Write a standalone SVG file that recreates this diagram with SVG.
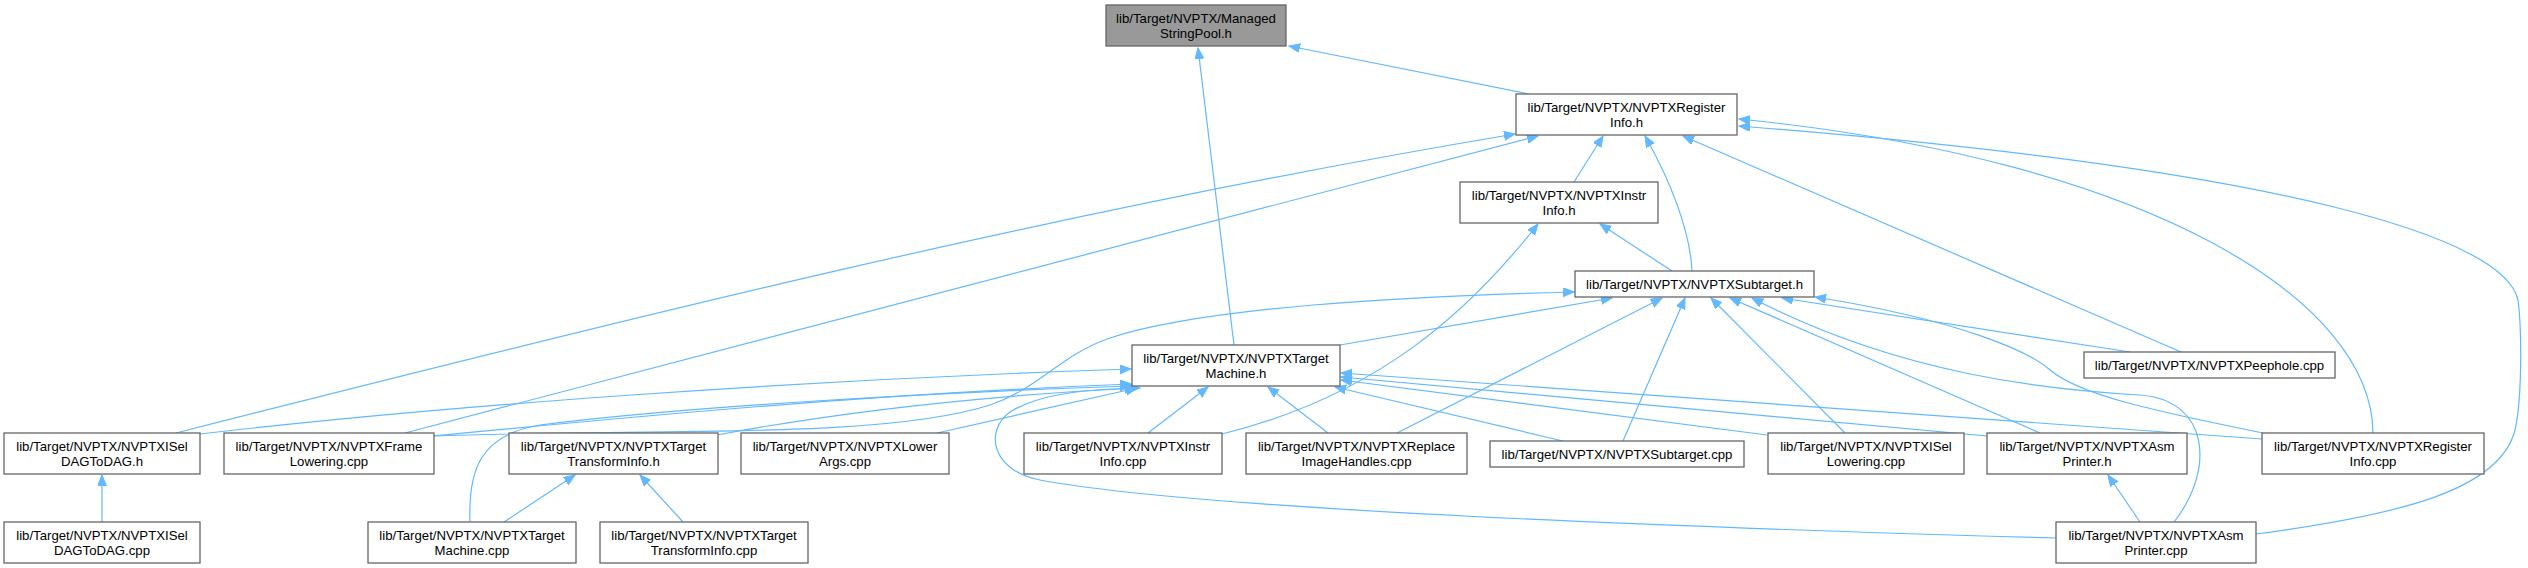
<svg xmlns="http://www.w3.org/2000/svg" width="2528" height="568" viewBox="0 0 2528 568">
<style>
.n rect{fill:#ffffff;stroke:#666666;stroke-width:1.3}
.n.g rect{fill:#999999}
.n text{font-family:"Liberation Sans",Arial,sans-serif;font-size:13.2px;fill:#000000;text-anchor:middle}
.e path{fill:none;stroke:#63b8ff;stroke-width:1.2;marker-end:url(#a)}
</style>
<defs>
<marker id="a" markerWidth="12" markerHeight="10" refX="11" refY="4.5" orient="auto" markerUnits="userSpaceOnUse" viewBox="0 0 12 10">
<path d="M0,0 L11,4.5 L0,9 z" fill="#63b8ff" stroke="#63b8ff" stroke-width="1"/>
</marker>
</defs>
<rect x="0" y="0" width="2528" height="568" fill="#ffffff"/>
<g id="edges" class="e">
<path d="M1529,94 L1289,46"/>
<path d="M1234,345 L1198,48"/>
<path d="M176,433 C620,320 1060,210 1515,134"/>
<path d="M405,433 L1538,136"/>
<path d="M1574,182 L1603,136"/>
<path d="M1692,271 C1690,230 1670,180 1645,136"/>
<path d="M2181,352 L1683,136"/>
<path d="M2373,433 C2372,300 2150,160 1739,119"/>
<path d="M2256,534 C2400,515 2500,490 2515,430 C2522,400 2522,330 2518,300 C2505,240 2300,170 1739,126"/>
<path d="M1672,271 L1600,224"/>
<path d="M1222,434 C1380,395 1470,310 1538,224"/>
<path d="M1340,345 L1612,298"/>
<path d="M433,436 C650,428 880,440 990,405 C1040,388 1060,355 1110,338 C1200,308 1400,296 1574,292"/>
<path d="M1397,433 L1662,298"/>
<path d="M1623,441 L1685,298"/>
<path d="M1845,433 L1711,298"/>
<path d="M2040,433 L1730,298"/>
<path d="M2174,522 C2215,470 2210,400 2140,395 C2050,390 1900,375 1752,298"/>
<path d="M2130,352 L1782,298"/>
<path d="M2263,433 C2150,410 2080,395 2050,370 C2030,352 1960,320 1815,297"/>
<path d="M200,434 C450,405 800,380 1131,369"/>
<path d="M433,436 C600,420 850,395 1131,384"/>
<path d="M717,435 C850,410 1000,395 1136,388"/>
<path d="M937,433 L1137,388"/>
<path d="M470,522 C468,470 480,435 540,425 C700,405 950,392 1131,386"/>
<path d="M1148,433 L1208,387"/>
<path d="M1328,433 L1268,387"/>
<path d="M1563,441 L1335,387"/>
<path d="M1767,435 L1341,380"/>
<path d="M1987,436 L1341,377"/>
<path d="M2262,439 L1341,373"/>
<path d="M2056,538 C1700,528 1200,510 1040,480 C990,470 985,430 1010,412 C1040,393 1090,389 1140,388"/>
<path d="M102,522 L102,475"/>
<path d="M504,522 L575,475"/>
<path d="M683,522 L640,475"/>
<path d="M2140,522 L2108,475"/>
</g>
<g id="n_msp" class="n g"><rect x="1106" y="5" width="180" height="41"/><text x="1196" y="22.5">lib/Target/NVPTX/Managed</text><text x="1196" y="37.5">StringPool.h</text></g>
<g id="n_reginfo_h" class="n"><rect x="1516" y="94" width="221" height="41"/><text x="1626.5" y="111.5">lib/Target/NVPTX/NVPTXRegister</text><text x="1626.5" y="126.5">Info.h</text></g>
<g id="n_instrinfo_h" class="n"><rect x="1460" y="182" width="198" height="41"/><text x="1559" y="199.5">lib/Target/NVPTX/NVPTXInstr</text><text x="1559" y="214.5">Info.h</text></g>
<g id="n_subtarget_h" class="n"><rect x="1575" y="271" width="239" height="26"/><text x="1694.5" y="289">lib/Target/NVPTX/NVPTXSubtarget.h</text></g>
<g id="n_tm_h" class="n"><rect x="1132" y="345" width="208" height="41"/><text x="1236" y="362.5">lib/Target/NVPTX/NVPTXTarget</text><text x="1236" y="377.5">Machine.h</text></g>
<g id="n_dag_h" class="n"><rect x="4" y="433" width="196" height="41"/><text x="102" y="450.5">lib/Target/NVPTX/NVPTXISel</text><text x="102" y="465.5">DAGToDAG.h</text></g>
<g id="n_frame_cpp" class="n"><rect x="224" y="433" width="210" height="41"/><text x="329" y="450.5">lib/Target/NVPTX/NVPTXFrame</text><text x="329" y="465.5">Lowering.cpp</text></g>
<g id="n_tti_h" class="n"><rect x="509" y="433" width="209" height="41"/><text x="613.5" y="450.5">lib/Target/NVPTX/NVPTXTarget</text><text x="613.5" y="465.5">TransformInfo.h</text></g>
<g id="n_lowerargs_cpp" class="n"><rect x="741" y="433" width="208" height="41"/><text x="845" y="450.5">lib/Target/NVPTX/NVPTXLower</text><text x="845" y="465.5">Args.cpp</text></g>
<g id="n_instrinfo_cpp" class="n"><rect x="1024" y="433" width="198" height="41"/><text x="1123" y="450.5">lib/Target/NVPTX/NVPTXInstr</text><text x="1123" y="465.5">Info.cpp</text></g>
<g id="n_replace_cpp" class="n"><rect x="1246" y="433" width="221" height="41"/><text x="1356.5" y="450.5">lib/Target/NVPTX/NVPTXReplace</text><text x="1356.5" y="465.5">ImageHandles.cpp</text></g>
<g id="n_subtarget_cpp" class="n"><rect x="1490" y="441" width="254" height="26"/><text x="1617" y="459">lib/Target/NVPTX/NVPTXSubtarget.cpp</text></g>
<g id="n_isellower_cpp" class="n"><rect x="1768" y="433" width="196" height="41"/><text x="1866" y="450.5">lib/Target/NVPTX/NVPTXISel</text><text x="1866" y="465.5">Lowering.cpp</text></g>
<g id="n_asm_h" class="n"><rect x="1987" y="433" width="200" height="41"/><text x="2087" y="450.5">lib/Target/NVPTX/NVPTXAsm</text><text x="2087" y="465.5">Printer.h</text></g>
<g id="n_reginfo_cpp" class="n"><rect x="2262" y="433" width="222" height="41"/><text x="2373" y="450.5">lib/Target/NVPTX/NVPTXRegister</text><text x="2373" y="465.5">Info.cpp</text></g>
<g id="n_peephole_cpp" class="n"><rect x="2084" y="352" width="251" height="26"/><text x="2209.5" y="370">lib/Target/NVPTX/NVPTXPeephole.cpp</text></g>
<g id="n_dag_cpp" class="n"><rect x="4" y="522" width="196" height="41"/><text x="102" y="539.5">lib/Target/NVPTX/NVPTXISel</text><text x="102" y="554.5">DAGToDAG.cpp</text></g>
<g id="n_tm_cpp" class="n"><rect x="368" y="522" width="208" height="41"/><text x="472" y="539.5">lib/Target/NVPTX/NVPTXTarget</text><text x="472" y="554.5">Machine.cpp</text></g>
<g id="n_tti_cpp" class="n"><rect x="600" y="522" width="208" height="41"/><text x="704" y="539.5">lib/Target/NVPTX/NVPTXTarget</text><text x="704" y="554.5">TransformInfo.cpp</text></g>
<g id="n_asm_cpp" class="n"><rect x="2056" y="522" width="200" height="41"/><text x="2156" y="539.5">lib/Target/NVPTX/NVPTXAsm</text><text x="2156" y="554.5">Printer.cpp</text></g>
</svg>
